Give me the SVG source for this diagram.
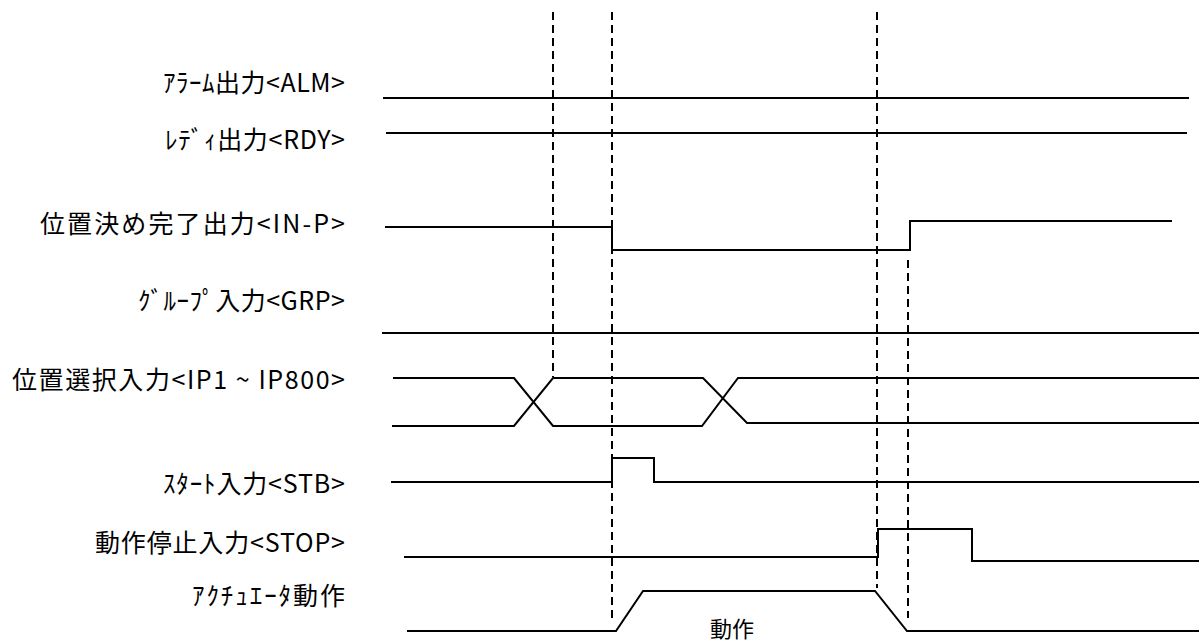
<svg xmlns="http://www.w3.org/2000/svg" width="1199" height="642" viewBox="0 0 1199 642">
<style>
.bg{fill:#ffffff}
.sig{fill:none;stroke:#000;stroke-width:2;stroke-linejoin:miter}
.dash{fill:none;stroke:#000;stroke-width:2;stroke-dasharray:8 5}
.lbl{font-family:"Noto Sans CJK JP","Noto Sans",sans-serif;font-size:25px;font-weight:400;fill:#000}
.note{font-family:"Noto Sans CJK JP","Noto Sans",sans-serif;font-size:22px;fill:#000}
</style>
<rect class="bg" x="0" y="0" width="1199" height="642"/>
<g id="sig-alm">
<text class="lbl" x="163" y="92" textLength="182" lengthAdjust="spacing">ｱﾗｰﾑ出力&lt;ALM&gt;</text>
<path class="sig" d="M383 98 H1189"/>
</g>
<g id="sig-rdy">
<text class="lbl" x="165" y="149" textLength="180" lengthAdjust="spacing">ﾚﾃﾞｨ出力&lt;RDY&gt;</text>
<path class="sig" d="M386 133 H1187"/>
</g>
<g id="sig-inp">
<text class="lbl" x="40" y="233" textLength="305" lengthAdjust="spacing">位置決め完了出力&lt;IN-P&gt;</text>
<path class="sig" d="M385 227 H612 V250 H910 V221 H1172"/>
</g>
<g id="sig-grp">
<text class="lbl" x="138" y="310" textLength="207" lengthAdjust="spacing">ｸﾞﾙｰﾌﾟ入力&lt;GRP&gt;</text>
<path class="sig" d="M382 333 H1199"/>
</g>
<g id="sig-ip">
<text class="lbl" x="12" y="389" textLength="333" lengthAdjust="spacing">位置選択入力&lt;IP1 ~ IP800&gt;</text>
<path class="sig" d="M393 378 H514 L553 426 H702 L738 378 H1199"/>
<path class="sig" d="M392 426 H514 L553 378 H703 L747 423 H1199"/>
</g>
<g id="sig-stb">
<text class="lbl" x="163" y="493" textLength="182" lengthAdjust="spacing">ｽﾀｰﾄ入力&lt;STB&gt;</text>
<path class="sig" d="M391 482 H612 V458 H654 V482 H1199"/>
</g>
<g id="sig-stop">
<text class="lbl" x="95" y="552" textLength="250" lengthAdjust="spacing">動作停止入力&lt;STOP&gt;</text>
<path class="sig" d="M404 557 H878 V529 H972 V561 H1199"/>
</g>
<g id="sig-act">
<text class="lbl" x="192" y="605" textLength="153" lengthAdjust="spacing">ｱｸﾁｭｴｰﾀ動作</text>
<path class="sig" d="M407 631 H616 L643 591 H875 L907 631 H1199"/>
<text class="note" x="732" y="637" text-anchor="middle">動作</text>
</g>
<g id="connectors">
<path class="dash" d="M553 12 V377"/>
<path class="dash" d="M612 12 V620"/>
<path class="dash" d="M877 12 V588"/>
<path class="dash" d="M908 260 V618"/>
</g>
</svg>
